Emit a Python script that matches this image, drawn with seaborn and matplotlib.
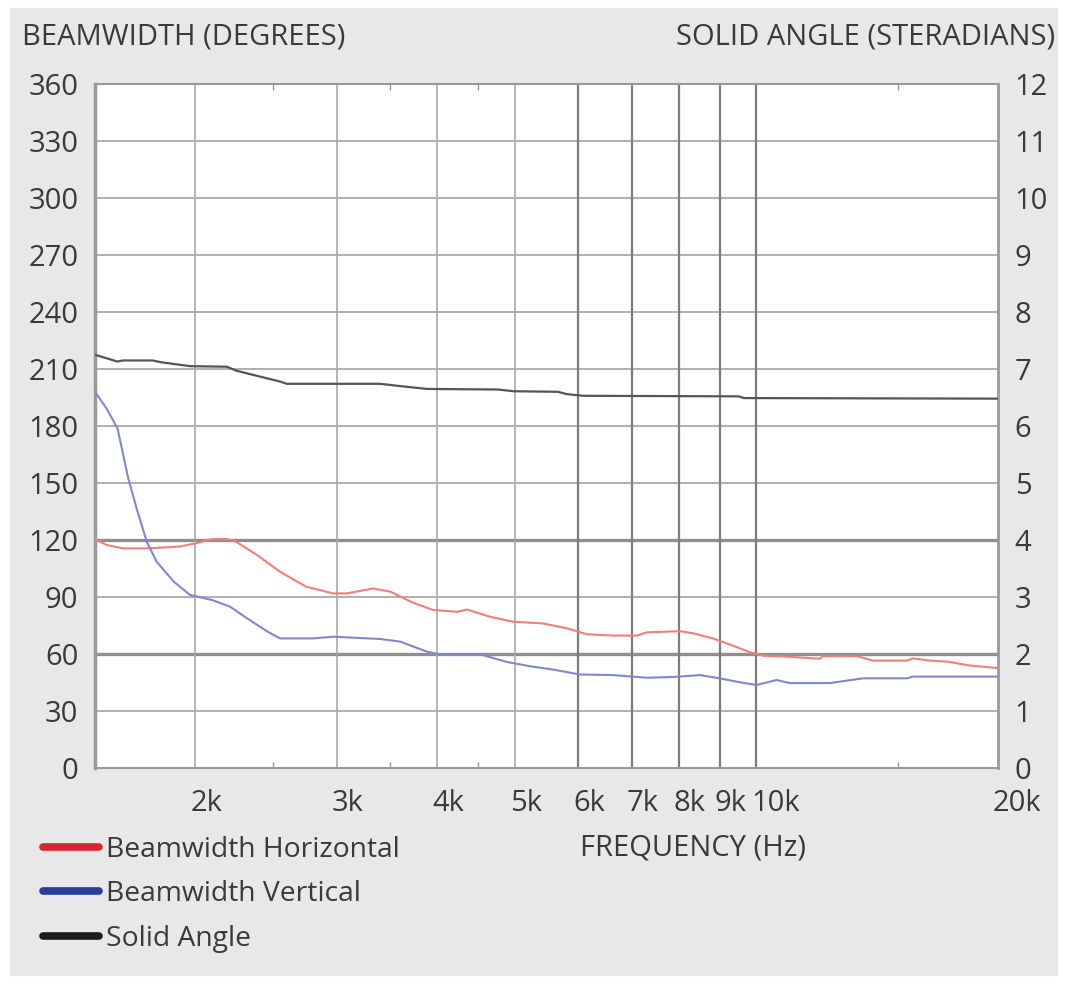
import matplotlib
matplotlib.use("Agg")
import matplotlib.pyplot as plt
import matplotlib.transforms as mtransforms
import seaborn as sns
from matplotlib.lines import Line2D
from matplotlib.patches import Rectangle
from matplotlib.ticker import FixedLocator, NullFormatter

# beamwidth horizontal (degrees)
freq_h = [1500, 1550, 1625, 1740, 1910, 2000, 2100, 2190, 2250, 2390, 2550, 2750,
          2970, 3090, 3330, 3500, 3735, 3955, 4240, 4360, 4660, 4975, 5420, 5810,
          6150, 6630, 7100, 7310, 8030, 8340, 8830, 9350, 9820, 10200, 10900,
          12000, 12100, 13350, 13740, 13970, 15400, 15670, 16460, 17290, 18470, 20000]
bw_h = [120.5, 117.4, 115.6, 115.6, 116.5, 118.2, 120.5, 120.5, 119.0, 112.0, 103.3, 95.4,
        91.9, 91.9, 94.5, 92.8, 87.0, 83.2, 82.2, 83.4, 79.6, 77.0, 76.1, 73.5,
        70.4, 69.7, 69.7, 71.4, 72.0, 70.9, 68.2, 64.4, 60.9, 59.1, 58.6,
        57.5, 58.8, 58.8, 57.4, 56.5, 56.5, 57.7, 56.5, 56.0, 53.9, 52.6]

# beamwidth vertical (degrees)
freq_v = [1500, 1550, 1600, 1650, 1690, 1740, 1790, 1880, 1970, 2100, 2210, 2320,
          2460, 2550, 2800, 2970, 3400, 3600, 3890, 4030, 4530, 4890, 5220, 5580,
          6030, 6630, 7310, 7880, 8510, 9000, 9540, 10000, 10600, 11000, 12350,
          12970, 13580, 15400, 15670, 20000]
bw_v = [198.0, 189.3, 178.8, 152.5, 136.7, 119.1, 108.6, 98.1, 91.1, 88.4, 84.9, 78.8,
        71.8, 68.2, 68.2, 69.1, 67.9, 66.5, 61.2, 59.8, 59.8, 55.8, 53.6, 51.8,
        49.2, 48.9, 47.5, 47.9, 48.9, 47.2, 45.1, 43.7, 46.3, 44.7, 44.7,
        46.0, 47.2, 47.2, 48.1, 48.1]

# solid angle (steradians)
freq_sa = [1500, 1600, 1625, 1770, 1810, 1970, 2190, 2250, 2550, 2600, 3400, 3600,
           3890, 4770, 4980, 5660, 5800, 6080, 9500, 9650, 20000]
solid_angle = [7.25, 7.13, 7.15, 7.15, 7.12, 7.05, 7.04, 6.97, 6.78, 6.74, 6.74, 6.70,
               6.65, 6.64, 6.61, 6.60, 6.56, 6.53, 6.52, 6.49, 6.48]

x_ticks = [2000, 3000, 4000, 5000, 6000, 7000, 8000, 9000, 10000, 20000]
x_labels = ['2k', '3k', '4k', '5k', '6k', '7k', '8k', '9k', '10k', '20k']
x_minor = [2500, 3500, 4500, 15000]
dark_x = [6000, 7000, 8000, 9000, 10000]
y_left = list(range(0, 361, 30))
y_right = list(range(0, 13))
strong_y = [60, 120]

series_labels = ['Beamwidth Horizontal', 'Beamwidth Vertical', 'Solid Angle']
legend_colors = ['#d7262f', '#2a3d98', '#1c1c1c']

sns.set_theme(style="white")
plt.rcParams['font.family'] = ['Open Sans', 'DejaVu Sans']
txt = '#3a3a3a'
fs = 21

fig = plt.figure(figsize=(10.67, 9.83), dpi=100)
fig.patch.set_facecolor('white')
fig.add_artist(Rectangle((10 / 1067, 8 / 983), 1047 / 1067, 967 / 983,
                         transform=fig.transFigure, color='#e8e8e8', zorder=-10))

ax = fig.add_axes([95 / 1067, 1 - 768 / 983, 903 / 1067, 684 / 983])
ax.set_facecolor('white')
ax.set_xscale('log')
ax.set_xlim(1500, 20000)
ax.set_ylim(0, 360)

# grid
for v in y_left[1:-1]:
    strong = v in strong_y
    ax.axhline(v, color='#8f8f8f' if strong else '#a9a9a9', lw=2.4 if strong else 1.3, zorder=0.5)
for f in x_ticks[:-1]:
    dark = f in dark_x
    ax.axvline(f, color='#7d7d7d' if dark else '#a9a9a9', lw=1.6 if dark else 1.2, zorder=0.6)

sns.lineplot(x=freq_h, y=bw_h, ax=ax, color='#ef7f7b', lw=1.5, zorder=3)
sns.lineplot(x=freq_v, y=bw_v, ax=ax, color='#8088cc', lw=1.5, zorder=3)

ax2 = ax.twinx()
ax2.set_ylim(0, 12)
sns.lineplot(x=freq_sa, y=solid_angle, ax=ax2, color='#555555', lw=1.6, zorder=3)

ax.set_xticks(x_ticks)
ax.set_xticklabels(x_labels)
ax.xaxis.set_minor_locator(FixedLocator(x_minor))
ax.xaxis.set_minor_formatter(NullFormatter())
ax.set_yticks(y_left)
ax2.set_yticks(y_right)
ax.set_xlabel('')
ax.set_ylabel('')
ax2.set_ylabel('')

ax.tick_params(axis='x', which='major', length=0, labelsize=fs, colors=txt, pad=15)
ax.tick_params(axis='x', which='minor', length=4, width=1, color='#999999',
               direction='in', top=True, bottom=True)
ax.tick_params(axis='y', length=0, labelsize=fs, colors=txt, pad=12)
ax2.tick_params(axis='y', length=0, labelsize=fs, colors=txt, pad=12)

shift = mtransforms.ScaledTranslation(-5 / 100, 0, fig.dpi_scale_trans)
for lab in ax.get_xticklabels():
    lab.set_horizontalalignment('left')
    lab.set_transform(lab.get_transform() + shift)

for s in ax.spines.values():
    s.set_color('#9a9a9a')
    s.set_linewidth(1.5)
ax.spines['left'].set_linewidth(2.5)
ax.spines['right'].set_linewidth(2.0)
for s in ax2.spines.values():
    s.set_visible(False)

fig.text(22 / 1067, 1 - 37 / 983, 'BEAMWIDTH (DEGREES)', ha='left', va='center',
         fontsize=fs, color=txt)
fig.text(1055 / 1067, 1 - 37 / 983, 'SOLID ANGLE (STERADIANS)', ha='right', va='center',
         fontsize=fs, color=txt)
fig.text(580 / 1067, 1 - 848 / 983, 'FREQUENCY (Hz)', ha='left', va='center',
         fontsize=fs, color=txt)

handles = [Line2D([], [], color=c, lw=5.5) for c in legend_colors]
leg = fig.legend(handles, series_labels, loc='upper left',
                 bbox_to_anchor=(43 / 1067, 1 - 836 / 983), frameon=False,
                 fontsize=20.3, handlelength=2.0, handletextpad=0.23,
                 labelspacing=0.58, borderaxespad=0, borderpad=0)
for t in leg.get_texts():
    t.set_color(txt)

fig.savefig('out.png', dpi=100)
